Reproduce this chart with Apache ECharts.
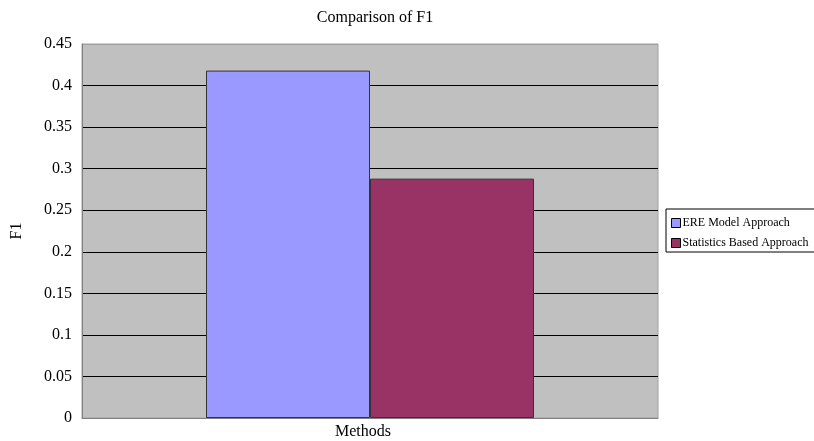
<!DOCTYPE html>
<html>
<head>
<meta charset="utf-8">
<script src="https://cdn.jsdelivr.net/npm/echarts@6/dist/echarts.min.js"></script>
<style>html,body{margin:0;padding:0;background:#fff;}#c{width:814px;height:441px;}</style>
</head>
<body>
<div id="c"></div>
<script>
var categories = ['Methods'];
var seriesNames = ['ERE Model Approach', 'Statistics Based Approach'];
var ereValues = [0.418];
var statValues = [0.288];
var seriesColors = ['#9999FF', '#993366'];

var chart = echarts.init(document.getElementById('c'));
var font = '"Liberation Serif", "Times New Roman", serif';
chart.setOption({
  animation: false,
  backgroundColor: '#fff',
  textStyle: { fontFamily: font, color: '#000' },
  title: {
    text: 'Comparison of F1',
    left: 370, top: 5, textAlign: 'center',
    textStyle: { fontFamily: font, fontSize: 16, fontWeight: 'normal', color: '#000' }
  },
  legend: {
    orient: 'vertical',
    left: 666, top: 209,
    padding: [7, 8, 2, 5],
    itemGap: 6,
    itemWidth: 9, itemHeight: 9,
    icon: 'rect',
    borderColor: '#000', borderWidth: 1,
    textStyle: { fontFamily: font, fontSize: 12, lineHeight: 14, color: '#000', padding: [0, 0, 0, -3] },
    itemStyle: { borderColor: '#000', borderWidth: 1 },
    data: seriesNames
  },
  grid: {
    left: 82, top: 44, width: 576, height: 374,
    show: true, backgroundColor: '#C0C0C0', borderColor: '#A0A0A0', borderWidth: 1
  },
  xAxis: {
    type: 'category',
    data: categories,
    axisLine: { lineStyle: { color: '#808080' } },
    axisTick: { show: false },
    axisLabel: { fontFamily: font, fontSize: 16, color: '#000', margin: 6, padding: [0, 14, 0, 0] }
  },
  yAxis: {
    type: 'value',
    min: 0, max: 0.45, interval: 0.05,
    name: 'F1', nameLocation: 'middle', nameGap: 57,
    nameTextStyle: { fontFamily: font, fontSize: 16, color: '#000' },
    axisLine: { show: true, lineStyle: { color: '#808080' } },
    axisTick: { show: false },
    axisLabel: { fontFamily: font, fontSize: 16, color: '#000', margin: 10 },
    splitLine: { lineStyle: { color: ['#808080','#000','#000','#000','#000','#000','#000','#000','#000','#A0A0A0'], width: 1 } }
  },
  series: [
    { name: seriesNames[0], type: 'bar', data: ereValues, barWidth: 164, barGap: '0%',
      itemStyle: { color: seriesColors[0], borderColor: '#333', borderWidth: 1 } },
    { name: seriesNames[1], type: 'bar', data: statValues, barWidth: 164, barGap: '0%',
      itemStyle: { color: seriesColors[1], borderColor: '#333', borderWidth: 1 } }
  ]
});
</script>
</body>
</html>
